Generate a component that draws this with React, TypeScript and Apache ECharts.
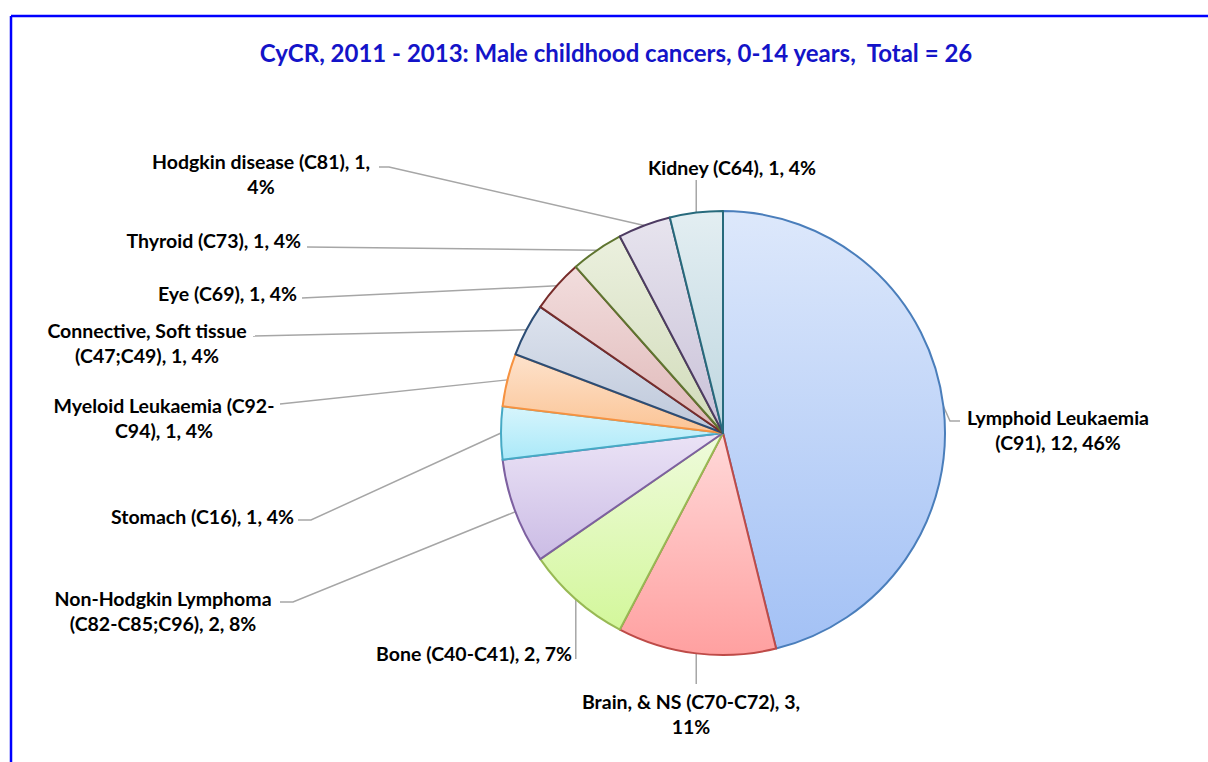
import React, { useEffect, useRef } from "react";
import * as echarts from "echarts";

// ---- data ----
const titleText = "CyCR, 2011 - 2013: Male childhood cancers, 0-14 years,  Total = 26";
const categories = [
  "Lymphoid Leukaemia (C91)",
  "Brain, & NS (C70-C72)",
  "Bone (C40-C41)",
  "Non-Hodgkin Lymphoma (C82-C85;C96)",
  "Stomach (C16)",
  "Myeloid Leukaemia (C92-C94)",
  "Connective, Soft tissue (C47;C49)",
  "Eye (C69)",
  "Thyroid (C73)",
  "Hodgkin disease (C81)",
  "Kidney (C64)",
];
const counts = [12, 3, 2, 2, 1, 1, 1, 1, 1, 1, 1];
const percents = ["46%", "11%", "7%", "8%", "4%", "4%", "4%", "4%", "4%", "4%", "4%"];

// ---- styles ----
const fillTop = ["#dde8fb", "#ffd9d9", "#effbdc", "#ebe3f6", "#d7f5fc", "#fde2cc", "#dde3ee", "#f2dddd", "#ebf0de", "#e7e4ee", "#e3eef2"];
const fillBottom = ["#a3c1f5", "#ffa0a0", "#d3f79b", "#cbbce5", "#aae9f9", "#fbc495", "#bec8da", "#dfb8b8", "#d1dbba", "#c9c1d8", "#bfd7e0"];
const borders = ["#4a7ebb", "#be4b48", "#98b954", "#7d60a0", "#46aac5", "#f69240", "#2c4d75", "#772c2a", "#5f7530", "#4d3b62", "#276a7c"];

// label layout: anchor, alignment, line wrap marker, label line bend points (null = keep start coordinate)
const labelLayouts: any[] = [
  { x: 1058, y: 430, align: "center", wrap: "(C91)", bend: [[950, 421], [960, 421]] },
  { x: 691, y: 714, align: "center", wrap: "11%", bend: [[null, 684]] },
  { x: 572, y: 653, align: "right", wrap: null, bend: [[null, 659]] },
  { x: 163, y: 611, align: "center", wrap: "(C82", bend: [[293, 602], [280, 602]] },
  { x: 294, y: 516, align: "right", wrap: null, bend: [[311, 520], [298, 520]] },
  { x: 164, y: 418, align: "center", wrap: "C94)", bend: [[280, 404]] },
  { x: 147, y: 343, align: "center", wrap: "(C47", bend: [[253, 336]] },
  { x: 297, y: 293, align: "right", wrap: null, bend: [[302, 298]] },
  { x: 301, y: 240, align: "right", wrap: null, bend: [[307, 247]] },
  { x: 261, y: 174, align: "center", wrap: "4%", bend: [[389, 167], [379, 167]] },
  { x: 732, y: 167, align: "center", wrap: null, bend: [[null, 180]] },
];

function labelText(i: number) {
  const full = `${categories[i]}, ${counts[i]}, ${percents[i]}`;
  const w = labelLayouts[i].wrap;
  if (!w) return full;
  const k = full.indexOf(w);
  return full.slice(0, k).trimEnd() + "\n" + full.slice(k);
}

export default function App() {
  const ref = useRef<HTMLDivElement>(null);
  useEffect(() => {
    const chart = echarts.init(ref.current!, undefined, { renderer: "svg" });
    const data = categories.map((name, i) => ({
      name,
      value: counts[i],
      itemStyle: {
        color: new echarts.graphic.LinearGradient(0, 0, 0, 1, [
          { offset: 0, color: fillTop[i] },
          { offset: 1, color: fillBottom[i] },
        ]),
        borderColor: borders[i],
        borderWidth: 2,
      },
    }));
    chart.setOption({
      animation: false,
      graphic: [
        { type: "line", shape: { x1: 11, y1: 16, x2: 1208, y2: 16 }, style: { stroke: "#0000ff", lineWidth: 2.5 } },
        { type: "line", shape: { x1: 11, y1: 16, x2: 11, y2: 762 }, style: { stroke: "#0000ff", lineWidth: 2.5 } },
        {
          type: "text",
          x: 616,
          y: 52,
          style: {
            text: titleText,
            align: "center",
            verticalAlign: "middle",
            font: "bold 24px Lato",
            fill: "#1414c8",
          },
        },
      ],
      series: [
        {
          type: "pie",
          center: [723, 433],
          radius: 222,
          startAngle: 90,
          clockwise: true,
          avoidLabelOverlap: false,
          data,
          label: {
            show: true,
            position: "outside",
            formatter: (p: any) => labelText(p.dataIndex),
            fontFamily: "Lato",
            fontWeight: "bold",
            fontSize: 19.5,
            lineHeight: 25,
            color: "#000",
          },
          labelLine: {
            show: true,
            length: 15,
            length2: 10,
            smooth: false,
            lineStyle: { color: "#a6a6a6", width: 1.5 },
          },
          labelLayout: (params: any) => {
            const cfg = labelLayouts[params.dataIndex];
            const p0 = params.labelLinePoints ? params.labelLinePoints[0] : [0, 0];
            const pts = [p0].concat(
              cfg.bend.map((b: any[]) => [b[0] == null ? p0[0] : b[0], b[1] == null ? p0[1] : b[1]])
            );
            return {
              x: cfg.x,
              y: cfg.y,
              align: cfg.align,
              verticalAlign: "middle",
              labelLinePoints: pts,
            };
          },
        },
      ],
    });
    return () => chart.dispose();
  }, []);
  return <div ref={ref} style={{ position: "fixed", left: 0, top: 0, width: 1208, height: 762, background: "#fff" }} />;
}
